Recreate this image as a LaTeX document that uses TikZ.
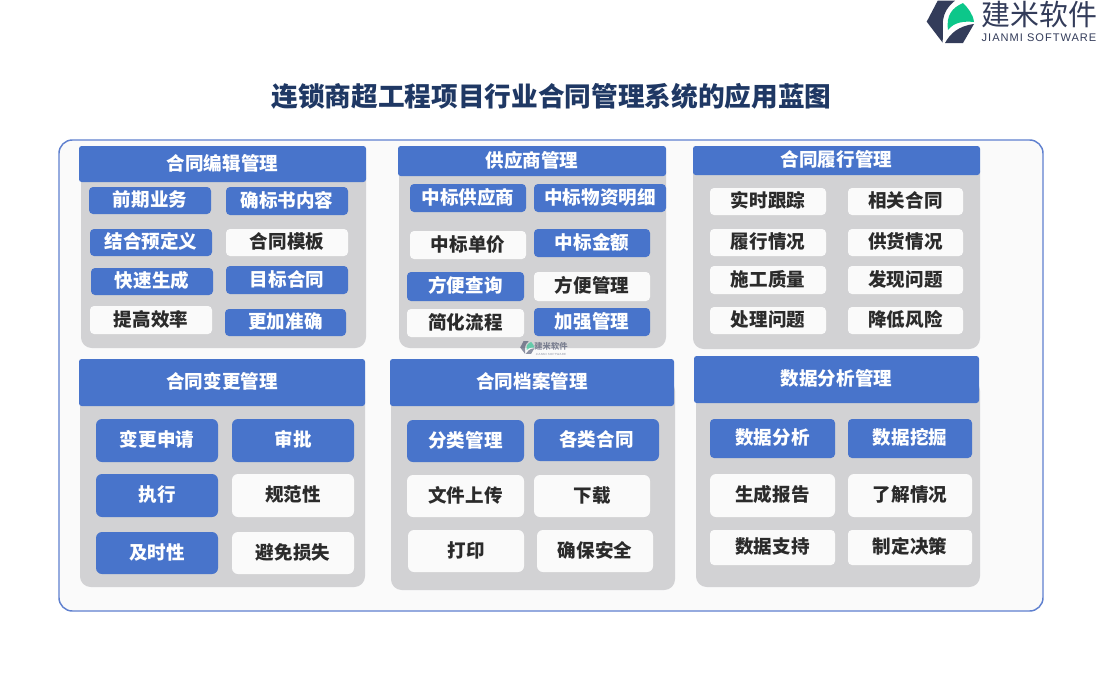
\documentclass[tikz,border=0pt]{standalone}
\usepackage{fontspec}
\setmainfont{Noto Sans CJK SC}
\newfontfamily\logofont[LetterSpace=9]{Liberation Sans}
\usepackage{xcolor}
\definecolor{jmBlue}{HTML}{4874CB}
\definecolor{jmFrame}{HTML}{5F80CF}
\definecolor{jmPage}{HTML}{FAFAFA}
\definecolor{jmGrey}{HTML}{D2D2D4}
\definecolor{jmDark}{HTML}{2B2B2B}
\definecolor{jmNavy}{HTML}{1F3864}
\definecolor{jmLogo}{HTML}{333C5A}
\definecolor{jmGreen}{HTML}{0CC78A}
\tikzset{
  sz/.style n args={2}{minimum width=#1*0.75pt, minimum height=#2*0.75pt},
  txt/.style={inner sep=0pt, text height=11.5pt, text depth=2.5pt, font=\fontsize{13.9}{16}\selectfont\bfseries},
  panel/.style={fill=jmGrey, rounded corners=8pt, inner sep=0pt},
  head/.style={txt, fill=jmBlue, text=white, rounded corners=2pt},
  cellb/.style={txt, fill=jmBlue, text=white, rounded corners=3pt},
  cellw/.style={txt, fill=jmPage, text=jmDark, rounded corners=3pt},
  tall/.style={rounded corners=4.5pt},
  logomark/.pic={
    \fill[jmLogo] (0.7,21.7) -- (11.7,0.7) -- (29,0.7) .. controls (22,6) and (18,13) .. (17,20) -- (16.7,42.7) -- cycle;
    \fill[jmGreen] (22,30) .. controls (20,15) and (26,8) .. (37,3) .. controls (42,8) and (47,14) .. (48,22) .. controls (38,21) and (28,22) .. (22,30) -- cycle;
    \fill[jmLogo] (19,43) .. controls (24,34) and (32,26) .. (48,24) -- (37,43) -- cycle;
  },
}
\begin{document}
\begin{tikzpicture}[x=0.75pt, y=-0.75pt]
  \useasboundingbox (0,0) rectangle (1100,700);
  \fill[white] (0,0) rectangle (1100,700);
  \node[inner sep=0pt, text=jmNavy, font=\fontsize{20}{24}\selectfont\bfseries] (title) at (551.5,96) {连锁商超工程项目行业合同管理系统的应用蓝图};
  \node[draw=jmFrame, line width=1.1pt, fill=jmPage, rounded corners=10pt, sz={984}{471}] (frame) at (551,375.5) {};

  % logo, top right
  \pic at (926,0) {logomark};
  \node[inner sep=0pt, text=jmLogo, font=\fontsize{21.7}{24}\selectfont] (logoname) at (1039.5,15) {建米软件};
  \node[inner sep=0pt, text=jmLogo, font=\fontsize{8.3}{9}\logofont] (logosub) at (1039,38) {JIANMI SOFTWARE};

  % panels
  \node[panel, sz={285}{188}] (p1) at (223.5,254) {};
  \node[panel, sz={267}{188}] (p2) at (532.5,254) {};
  \node[panel, sz={287}{189}] (p3) at (836.5,254.5) {};
  \node[panel, sz={285}{207}] (p4) at (222.5,483.5) {};
  \node[panel, sz={284}{210}] (p5) at (533,485) {};
  \node[panel, sz={284}{207}] (p6) at (838,483.5) {};

  % watermark
  \begin{scope}[opacity=0.55]
    \pic[scale=0.3] at (520,341) {logomark};
    \node[inner sep=0pt, text=jmLogo, font=\fontsize{6.2}{7}\selectfont\bfseries] (wmname) at (551,346) {建米软件};
    \node[inner sep=0pt, text=jmLogo, font=\fontsize{2.2}{3}\logofont] (wmsub) at (551,354) {JIANMI SOFTWARE};
  \end{scope}

  % headers
  \node[head, sz={287}{36}] (h1) at (222.5,164) {合同编辑管理};
  \node[head, sz={268}{30}] (h2) at (532,161) {供应商管理};
  \node[head, sz={287}{29}] (h3) at (836.5,160.5) {合同履行管理};
  \node[head, sz={286}{47}] (h4) at (222,382.5) {合同变更管理};
  \node[head, sz={284}{47}] (h5) at (532,382.5) {合同档案管理};
  \node[head, sz={285}{47}] (h6) at (836.5,379.5) {数据分析管理};

  % contract editing
  \node[cellb, sz={122}{27}] (a1) at (150,200.5) {前期业务};
  \node[cellb, sz={122}{28}] (a2) at (287,201) {确标书内容};
  \node[cellb, sz={122}{27}] (a3) at (151,242.5) {结合预定义};
  \node[cellw, sz={122}{27}] (a4) at (287,242.5) {合同模板};
  \node[cellb, sz={122}{27}] (a5) at (152,281.5) {快速生成};
  \node[cellb, sz={122}{28}] (a6) at (287,280) {目标合同};
  \node[cellw, sz={122}{28}] (a7) at (151,320) {提高效率};
  \node[cellb, sz={121}{27}] (a8) at (285.5,322.5) {更加准确};

  % suppliers
  \node[cellb, sz={116}{28}] (b1) at (468,198) {中标供应商};
  \node[cellb, sz={132}{28}] (b2) at (600,198) {中标物资明细};
  \node[cellw, sz={116}{28}] (b3) at (468,245) {中标单价};
  \node[cellb, sz={116}{28}] (b4) at (592,243) {中标金额};
  \node[cellb, sz={117}{29}] (b5) at (465.5,286.5) {方便查询};
  \node[cellw, sz={116}{29}] (b6) at (592,286.5) {方便管理};
  \node[cellw, sz={117}{28}] (b7) at (465.5,323) {简化流程};
  \node[cellb, sz={116}{28}] (b8) at (592,322) {加强管理};

  % performance
  \node[cellw, sz={116}{27}] (c1) at (768,201.5) {实时跟踪};
  \node[cellw, sz={115}{27}] (c2) at (905.5,201.5) {相关合同};
  \node[cellw, sz={116}{27}] (c3) at (768,242.5) {履行情况};
  \node[cellw, sz={115}{27}] (c4) at (905.5,242.5) {供货情况};
  \node[cellw, sz={116}{28}] (c5) at (768,280) {施工质量};
  \node[cellw, sz={115}{28}] (c6) at (905.5,280) {发现问题};
  \node[cellw, sz={116}{27}] (c7) at (768,320.5) {处理问题};
  \node[cellw, sz={115}{27}] (c8) at (905.5,320.5) {降低风险};

  % changes
  \node[cellb, tall, sz={122}{43}] (d1) at (157,440.5) {变更申请};
  \node[cellb, tall, sz={122}{43}] (d2) at (293,440.5) {审批};
  \node[cellb, tall, sz={122}{43}] (d3) at (157,495.5) {执行};
  \node[cellw, tall, sz={122}{43}] (d4) at (293,495.5) {规范性};
  \node[cellb, tall, sz={122}{42}] (d5) at (157,553) {及时性};
  \node[cellw, tall, sz={122}{42}] (d6) at (293,553) {避免损失};

  % archive
  \node[cellb, tall, sz={117}{42}] (e1) at (465.5,441) {分类管理};
  \node[cellb, tall, sz={125}{42}] (e2) at (596.5,440) {各类合同};
  \node[cellw, tall, sz={117}{42}] (e3) at (465.5,496) {文件上传};
  \node[cellw, tall, sz={116}{42}] (e4) at (592,496) {下载};
  \node[cellw, tall, sz={116}{42}] (e5) at (466,551) {打印};
  \node[cellw, tall, sz={116}{42}] (e6) at (595,551) {确保安全};

  % analysis
  \node[cellb, sz={125}{39}] (f1) at (772.5,438.5) {数据分析};
  \node[cellb, sz={124}{39}] (f2) at (910,438.5) {数据挖掘};
  \node[cellw, tall, sz={125}{43}] (f3) at (772.5,495.5) {生成报告};
  \node[cellw, tall, sz={124}{43}] (f4) at (910,495.5) {了解情况};
  \node[cellw, sz={125}{35}] (f5) at (772.5,547.5) {数据支持};
  \node[cellw, sz={124}{35}] (f6) at (910,547.5) {制定决策};
\end{tikzpicture}
\end{document}
